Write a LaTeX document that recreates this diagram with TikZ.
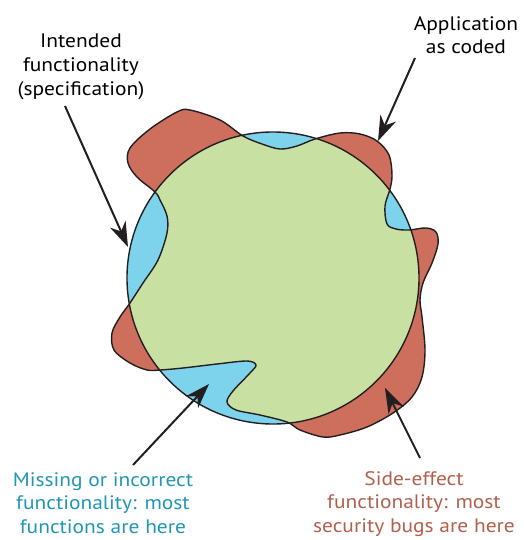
\documentclass[tikz,border=0pt]{standalone}
\usepackage{fontspec}
\setmainfont[FakeStretch=1.1]{PT Sans}
\usetikzlibrary{arrows.meta}
\definecolor{bluefill}{HTML}{7DD3EC}
\definecolor{redfill}{HTML}{CE6F5E}
\definecolor{greenfill}{HTML}{C9E0A3}
\definecolor{outline}{HTML}{231F20}
\definecolor{bluetext}{HTML}{2196B4}
\definecolor{redtext}{HTML}{B0604C}
\tikzset{
  lbl/.style={align=center,inner sep=0pt,anchor=north,font=\fontsize{19.5pt}{23.8pt}\selectfont},
  edge/.style={draw=outline,line width=1.4pt,line join=round},
  pointer/.style={draw=outline,line width=2pt,-{Stealth[length=25pt,width=17pt,inset=8pt]}},
}
\begin{document}
\begin{tikzpicture}[x=1pt,y=-1pt]
\useasboundingbox (0,0) rectangle (523,540);
\def\blob{plot[smooth cycle,tension=0.55] coordinates{
(243,136) (262,144) (280,149) (297,146) (315,139) (340,133) (360,134) (377,141) (389,155) (392,175)
(390,189) (385,206) (387,224) (396,229) (409,230) (426,228) (436,232) (438,244) (432,263) (423,283)
(420,300) (422,317) (425,350) (422,377) (412,397) (393,413) (367,427) (340,435) (323,437) (300,430)
(287,422) (260,415) (236,410) (227,402) (233,391) (250,373) (256,365) (247,361) (217,364) (183,368)
(160,370) (147,370) (130,363) (114,350) (112,333) (120,317) (130,303) (143,283) (158,260) (167,233)
(167,216) (160,200) (155,192) (137,177) (128,163) (130,148) (150,129) (177,112) (190,110) (220,120)}}
\coordinate (C) at (273,278);
% filled regions
\fill[bluefill] (C) circle[radius=146pt];
\fill[redfill] \blob;
\begin{scope}
  \clip (C) circle[radius=146pt];
  \fill[greenfill] \blob;
\end{scope}
\draw[edge] (C) circle[radius=146pt];
\draw[edge] \blob;
% labels
\node[lbl] (spec) at (81,34) {Intended\\functionality\\(specification)};
\node[lbl] (app) at (466,16) {Application\\as coded};
\node[lbl,text=bluetext] (missing) at (103,472) {Missing or incorrect\\functionality: most\\functions are here};
\node[lbl,text=redtext] (side) at (414,471) {Side-effect\\functionality: most\\security bugs are here};
% arrow endpoints
\coordinate (s1) at (65,106);
\coordinate (t1) at (128,247);
\coordinate (s2) at (415,58);
\coordinate (t2) at (378,141);
\coordinate (s3) at (133,465);
\coordinate (t3) at (209,384);
\coordinate (s4) at (420,458);
\coordinate (t4) at (385,388);
\draw[pointer] (s1) -- (t1);
\draw[pointer] (s2) -- (t2);
\draw[pointer] (s3) -- (t3);
\draw[pointer] (s4) -- (t4);
\end{tikzpicture}
\end{document}
